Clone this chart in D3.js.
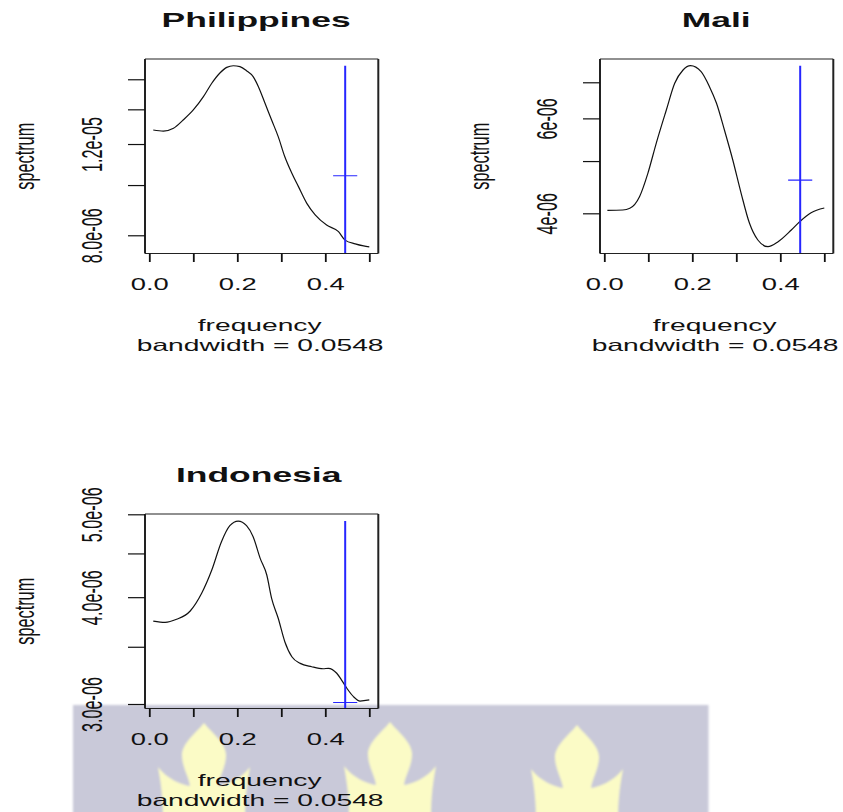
<!DOCTYPE html>
<html>
<head>
<meta charset="utf-8">
<script src="https://cdn.jsdelivr.net/npm/d3@7"></script>
<style>
  html, body { margin: 0; padding: 0; background: #fff; }
  svg { display: block; }
  text { font-family: "Liberation Sans", Arial, Helvetica, sans-serif; fill: #111; }
</style>
</head>
<body>
<svg id="chart" width="843" height="812"></svg>
<script>
// Smoothed periodograms (spectrum on a log axis) for three countries,
// each with the 95% confidence bar and bandwidth marker.

const countries = ["Philippines", "Mali", "Indonesia"];
const bandwidth = 0.0548;
// ratio of the spectrum estimate to its upper / lower 95% limit
const ciUpper = 1.63;
const ciLower = 0.5;

const philippinesFreq = [0.009, 0.032, 0.055, 0.077, 0.100, 0.123, 0.142, 0.161, 0.176, 0.191, 0.206, 0.221, 0.236, 0.248,
  0.263, 0.278, 0.293, 0.308, 0.324, 0.339, 0.358, 0.377, 0.403, 0.430, 0.445, 0.468, 0.487, 0.500];
const philippinesSpec = [1.277e-5, 1.271e-5, 1.287e-5, 1.335e-5, 1.396e-5, 1.481e-5, 1.572e-5, 1.647e-5, 1.687e-5, 1.699e-5,
  1.692e-5, 1.662e-5, 1.619e-5, 1.548e-5, 1.438e-5, 1.335e-5, 1.240e-5, 1.134e-5, 1.054e-5, 9.93e-6, 9.22e-6, 8.76e-6,
  8.37e-6, 8.13e-6, 7.83e-6, 7.70e-6, 7.63e-6, 7.60e-6];

const maliFreq = [0.007, 0.042, 0.058, 0.080, 0.099, 0.118, 0.141, 0.160, 0.179, 0.196, 0.220, 0.239, 0.255, 0.273,
  0.292, 0.311, 0.330, 0.349, 0.372, 0.395, 0.425, 0.444, 0.470, 0.500];
const maliSpec = [4.052e-6, 4.057e-6, 4.086e-6, 4.294e-6, 4.745e-6, 5.394e-6, 6.219e-6, 6.970e-6, 7.378e-6, 7.514e-6,
  7.324e-6, 6.870e-6, 6.399e-6, 5.709e-6, 5.023e-6, 4.357e-6, 3.833e-6, 3.569e-6, 3.468e-6, 3.543e-6, 3.725e-6,
  3.859e-6, 4.010e-6, 4.091e-6];

const indonesiaFreq = [0.009, 0.036, 0.062, 0.093, 0.119, 0.142, 0.164, 0.183, 0.202, 0.221, 0.236, 0.252, 0.267, 0.278,
  0.293, 0.308, 0.324, 0.343, 0.369, 0.395, 0.407, 0.426, 0.437, 0.449, 0.464, 0.479, 0.500];
const indonesiaSpec = [3.751e-6, 3.738e-6, 3.769e-6, 3.854e-6, 4.042e-6, 4.303e-6, 4.644e-6, 4.849e-6, 4.910e-6, 4.849e-6,
  4.707e-6, 4.441e-6, 4.246e-6, 3.988e-6, 3.779e-6, 3.548e-6, 3.407e-6, 3.347e-6, 3.317e-6, 3.299e-6, 3.303e-6,
  3.259e-6, 3.200e-6, 3.130e-6, 3.060e-6, 3.024e-6, 3.033e-6];

const xTicks = [0, 0.1, 0.2, 0.3, 0.4, 0.5];
const xTickLabels = ["0.0", "", "0.2", "", "0.4", ""];

const philippinesYTicks = [8e-6, 1e-5, 1.2e-5, 1.4e-5, 1.6e-5];
const philippinesYTickLabels = ["8.0e-06", "", "1.2e-05", "", ""];
const maliYTicks = [4e-6, 5e-6, 6e-6, 7e-6];
const maliYTickLabels = ["4e-06", "", "6e-06", ""];
const indonesiaYTicks = [3e-6, 3.5e-6, 4e-6, 4.5e-6, 5e-6];
const indonesiaYTickLabels = ["3.0e-06", "", "4.0e-06", "", "5.0e-06"];

const philippinesYRange = [7.378e-6, 1.7508e-5];
const maliYRange = [3.369e-6, 7.732e-6];
const indonesiaYRange = [2.964e-6, 5.004e-6];

// ---------------------------------------------------------------- layout
const panels = [
  { name: countries[0], freq: philippinesFreq, spec: philippinesSpec, ticks: philippinesYTicks,
    tickLabels: philippinesYTickLabels, yRange: philippinesYRange, dx: 0, dy: 0, titleShift: -5.5 },
  { name: countries[1], freq: maliFreq, spec: maliSpec, ticks: maliYTicks,
    tickLabels: maliYTickLabels, yRange: maliYRange, dx: 455, dy: 0, titleShift: -0.5 },
  { name: countries[2], freq: indonesiaFreq, spec: indonesiaSpec, ticks: indonesiaYTicks,
    tickLabels: indonesiaYTickLabels, yRange: indonesiaYRange, dx: 0, dy: 455, titleShift: -3 }
];
const box = { left: 145, right: 378.3, top: 59, bottom: 253.5 };
const xPix = [149.3, 369.3];
const stretchTitle = 1.69, stretchTick = 1.68, stretchYTick = 1.85, stretchLab = 1.73, stretchYLab = 1.7;
const ink = "#111";
const blue = "#2626ff";

const svg = d3.select("#chart");
const defs = svg.append("defs");

// ---------------------------------------------------------------- banner behind the lower panel
defs.append("filter").attr("id", "soft")
  .attr("x", "-5%").attr("y", "-5%").attr("width", "110%").attr("height", "110%")
  .append("feGaussianBlur").attr("stdDeviation", 1.3);

const banner = svg.append("g").attr("filter", "url(#soft)");
banner.append("rect")
  .attr("x", 73).attr("y", 705).attr("width", 635.5).attr("height", 120)
  .attr("fill", "#c9c9d9");
const flamePath = "M0,0 C6,8 22,20 22,32 C22,44 15,54 14,63 C22,62 37,56 46,44 C43,60 41,75 41,95 " +
  "L-41,95 C-41,75 -43,60 -46,44 C-37,56 -22,62 -14,63 C-15,54 -22,44 -22,32 C-22,20 -6,8 0,0 Z";
[[204, 723], [390, 722], [577, 725]].forEach(([cx, cy]) => {
  banner.append("path")
    .attr("d", flamePath)
    .attr("transform", `translate(${cx},${cy})`)
    .attr("fill", "#fbfbc6");
});

// ---------------------------------------------------------------- panels
panels.forEach((p, i) => {
  const g = svg.append("g").attr("transform", `translate(${p.dx},${p.dy})`);
  const x = d3.scaleLinear().domain([0, 0.5]).range(xPix);
  const y = d3.scaleLog().domain(p.yRange).range([box.bottom, box.top]);

  defs.append("clipPath").attr("id", "clip" + i)
    .append("rect")
    .attr("x", box.left).attr("y", box.top)
    .attr("width", box.right - box.left).attr("height", box.bottom - box.top);

  // spectrum curve
  const pts = p.freq.map((f, j) => [f, p.spec[j]]);
  g.append("path")
    .datum(pts)
    .attr("clip-path", `url(#clip${i})`)
    .attr("fill", "none")
    .attr("stroke", ink)
    .attr("stroke-width", 1.2)
    .attr("d", d3.line().x(d => x(d[0])).y(d => y(d[1])).curve(d3.curveMonotoneX));

  // confidence interval bar and bandwidth marker
  const peak = d3.max(p.spec);
  const confY = peak / ciUpper;
  const confX = 0.5 - bandwidth;
  g.append("line")
    .attr("clip-path", `url(#clip${i})`)
    .attr("x1", x(confX)).attr("x2", x(confX))
    .attr("y1", y(confY * ciLower)).attr("y2", y(peak))
    .attr("stroke", blue).attr("stroke-width", 2);
  g.append("line")
    .attr("clip-path", `url(#clip${i})`)
    .attr("x1", x(confX - bandwidth / 2)).attr("x2", x(confX + bandwidth / 2))
    .attr("y1", y(confY)).attr("y2", y(confY))
    .attr("stroke", blue).attr("stroke-width", 1.2);

  // frame
  const frame = g.append("g").attr("stroke", "#222");
  frame.append("line").attr("x1", box.left).attr("x2", box.right).attr("y1", box.top).attr("y2", box.top).attr("stroke-width", 1.2);
  frame.append("line").attr("x1", box.left).attr("x2", box.right).attr("y1", box.bottom).attr("y2", box.bottom).attr("stroke-width", 1.2);
  frame.append("line").attr("x1", box.left).attr("x2", box.left).attr("y1", box.top).attr("y2", box.bottom).attr("stroke-width", 2);
  frame.append("line").attr("x1", box.right).attr("x2", box.right).attr("y1", box.top).attr("y2", box.bottom).attr("stroke-width", 2);

  // x axis
  const xa = g.append("g")
    .attr("transform", `translate(0,${box.bottom})`)
    .call(d3.axisBottom(x).tickValues(xTicks).tickSize(8.5).tickSizeOuter(0).tickFormat(""));
  xa.select(".domain").remove();
  xa.selectAll(".tick text").remove();
  xa.selectAll(".tick line").attr("stroke", ink).attr("stroke-width", 1.8);
  xa.selectAll(".tick").append("text")
    .attr("transform", `translate(0,36.5) scale(${stretchTick},1)`)
    .attr("text-anchor", "middle")
    .style("font-size", "16.3px")
    .text(d => xTickLabels[xTicks.indexOf(d)]);

  // y axis (log)
  const ya = g.append("g")
    .attr("transform", `translate(${box.left},0)`)
    .call(d3.axisLeft(y).tickValues(p.ticks).tickSize(17).tickSizeOuter(0).tickFormat(""));
  ya.select(".domain").remove();
  ya.selectAll(".tick text").remove();
  ya.selectAll(".tick line").attr("stroke", ink).attr("stroke-width", 1.2);
  ya.selectAll(".tick").append("text")
    .attr("transform", `translate(-43.3,0) scale(${stretchYTick},1) rotate(-90)`)
    .attr("text-anchor", "middle")
    .style("font-size", "16.2px")
    .text(d => p.tickLabels[p.ticks.indexOf(d)]);

  // titles and axis labels
  const cx = (box.left + box.right) / 2;
  g.append("text")
    .attr("transform", `translate(${cx + p.titleShift},26.5) scale(${stretchTitle},1)`)
    .attr("text-anchor", "middle")
    .style("font-size", "21px").style("font-weight", "bold")
    .text(p.name);
  g.append("text")
    .attr("transform", `translate(${cx - 2},330.5) scale(${stretchLab},1)`)
    .attr("text-anchor", "middle")
    .style("font-size", "16.3px")
    .text("frequency");
  g.append("text")
    .attr("transform", `translate(${cx - 1.5},351) scale(${stretchLab},1)`)
    .attr("text-anchor", "middle")
    .style("font-size", "16.3px")
    .text("bandwidth = " + bandwidth);
  g.append("text")
    .attr("transform", `translate(34,${(box.top + box.bottom) / 2}) scale(${stretchYLab},1) rotate(-90)`)
    .attr("text-anchor", "middle")
    .style("font-size", "16.3px")
    .text("spectrum");
});
</script>
</body>
</html>
